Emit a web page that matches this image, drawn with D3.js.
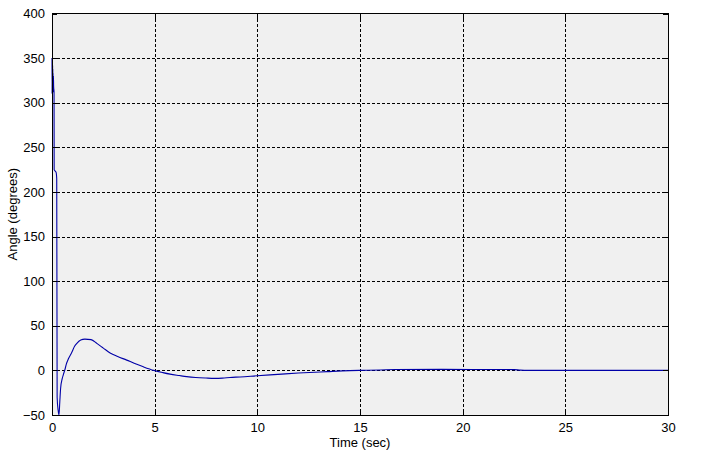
<!DOCTYPE html>
<html>
<head>
<meta charset="utf-8">
<script src="https://cdn.jsdelivr.net/npm/d3@7"></script>
<style>
  html, body { margin: 0; padding: 0; background: #ffffff; }
  svg { display: block; }
  text { font-family: "Liberation Sans", Arial, sans-serif; }
</style>
</head>
<body>
<svg id="chart" width="721" height="452"></svg>
<script>
// ---- data ----
const timeSec = [0, 0.005, 0.01, 0.015, 0.02, 0.025, 0.03, 0.035, 0.04, 0.045, 0.05, 0.06, 0.07, 0.08,
  0.1, 0.105, 0.2, 0.23, 0.25, 0.3, 0.34, 0.38, 0.42, 0.5, 0.55, 0.63, 0.71, 0.8, 0.96, 1.1, 1.2, 1.4,
  1.6, 1.9, 2.2, 2.5, 2.83, 3.2, 3.64, 4.0, 4.45, 4.96, 5.4, 5.75, 6.2, 6.56, 7.0, 7.5, 7.9, 8.3,
  8.67, 9.16, 10, 11, 12, 13.4, 14.5, 15, 16, 16.7, 19, 22.5, 22.8, 23.2, 30];
const angleDeg = [350, 310, 348, 312, 345, 315, 342, 318, 338, 320, 333, 312, 330, 318,
  312, 225, 222, 215, -30, -45, -50, -35, -20, -9, -5, 1, 8, 13, 20, 27, 30, 34,
  35, 34.5, 30, 25, 19.5, 15.5, 11.5, 8, 4, 0, -2.5, -4.2, -5.8, -7, -8, -8.6, -8.9, -8.7,
  -7.9, -7.4, -6, -4.5, -3, -1.4, -0.3, 0, 0.5, 1, 1.1, 0.9, 0.3, 0, 0];
const xTicks = [0, 5, 10, 15, 20, 25, 30];
const yTicks = [-50, 0, 50, 100, 150, 200, 250, 300, 350, 400];
const xLabel = "Time (sec)";
const yLabel = "Angle (degrees)";

// ---- layout ----
const W = 721, H = 452;
const L = 52, R = 668, T = 13.5, B = 415;

const svg = d3.select("#chart");
const x = d3.scaleLinear().domain([0, 30]).range([L, R]);
const y = d3.scaleLinear().domain([-50, 400]).range([B, T]);

// plot background
svg.append("rect")
  .attr("x", L).attr("y", T).attr("width", R - L).attr("height", B - T)
  .attr("fill", "#f0f0f0");

// grid
const grid = svg.append("g").attr("stroke", "#000").attr("stroke-width", 1)
  .attr("stroke-dasharray", "3,2").attr("shape-rendering", "crispEdges");
grid.selectAll(".gx").data(xTicks.slice(1, -1)).enter().append("line")
  .attr("x1", d => Math.round(x(d)) + 0.5).attr("x2", d => Math.round(x(d)) + 0.5)
  .attr("y1", T).attr("y2", B);
grid.selectAll(".gy").data(yTicks.slice(1, -1)).enter().append("line")
  .attr("y1", d => Math.round(y(d)) + 0.5).attr("y2", d => Math.round(y(d)) + 0.5)
  .attr("x1", L).attr("x2", R);

// data line
const line = d3.line().x((d, i) => x(timeSec[i])).y(d => y(d)).curve(d3.curveMonotoneX);
svg.append("path")
  .datum(angleDeg)
  .attr("d", line)
  .attr("fill", "none")
  .attr("stroke", "#0000a8")
  .attr("stroke-width", 1.1)
  .attr("stroke-linejoin", "round");

// axes
const fontSize = 13;
const xAxis = svg.append("g").attr("transform", `translate(0,${B})`)
  .call(d3.axisBottom(x).tickValues(xTicks).tickSize(-5).tickPadding(8).tickFormat(d3.format("d")));
const xAxisTop = svg.append("g").attr("transform", `translate(0,${T})`)
  .call(d3.axisTop(x).tickValues(xTicks).tickSize(-5).tickFormat(""));
const yAxis = svg.append("g").attr("transform", `translate(${L},0)`)
  .call(d3.axisLeft(y).tickValues(yTicks).tickSize(-5).tickPadding(7).tickFormat(d3.format("d")));
const yAxisRight = svg.append("g").attr("transform", `translate(${R},0)`)
  .call(d3.axisRight(y).tickValues(yTicks).tickSize(-5).tickFormat(""));

[xAxis, xAxisTop, yAxis, yAxisRight].forEach(g => {
  g.selectAll(".domain").remove();
  g.selectAll("line").attr("stroke", "#000").attr("shape-rendering", "crispEdges");
  g.selectAll("text").attr("font-size", fontSize).attr("fill", "#000")
    .attr("font-family", '"Liberation Sans", Arial, sans-serif');
});

// frame
svg.append("rect")
  .attr("x", L).attr("y", T).attr("width", R - L).attr("height", B - T)
  .attr("fill", "none").attr("stroke", "#000").attr("stroke-width", 1)
  .attr("shape-rendering", "crispEdges");

// labels
svg.append("text")
  .attr("x", (L + R) / 2).attr("y", 447)
  .attr("text-anchor", "middle").attr("font-size", fontSize)
  .text(xLabel);
svg.append("text")
  .attr("transform", `translate(17,${(T + B) / 2}) rotate(-90)`)
  .attr("text-anchor", "middle").attr("font-size", fontSize)
  .text(yLabel);
</script>
</body>
</html>
